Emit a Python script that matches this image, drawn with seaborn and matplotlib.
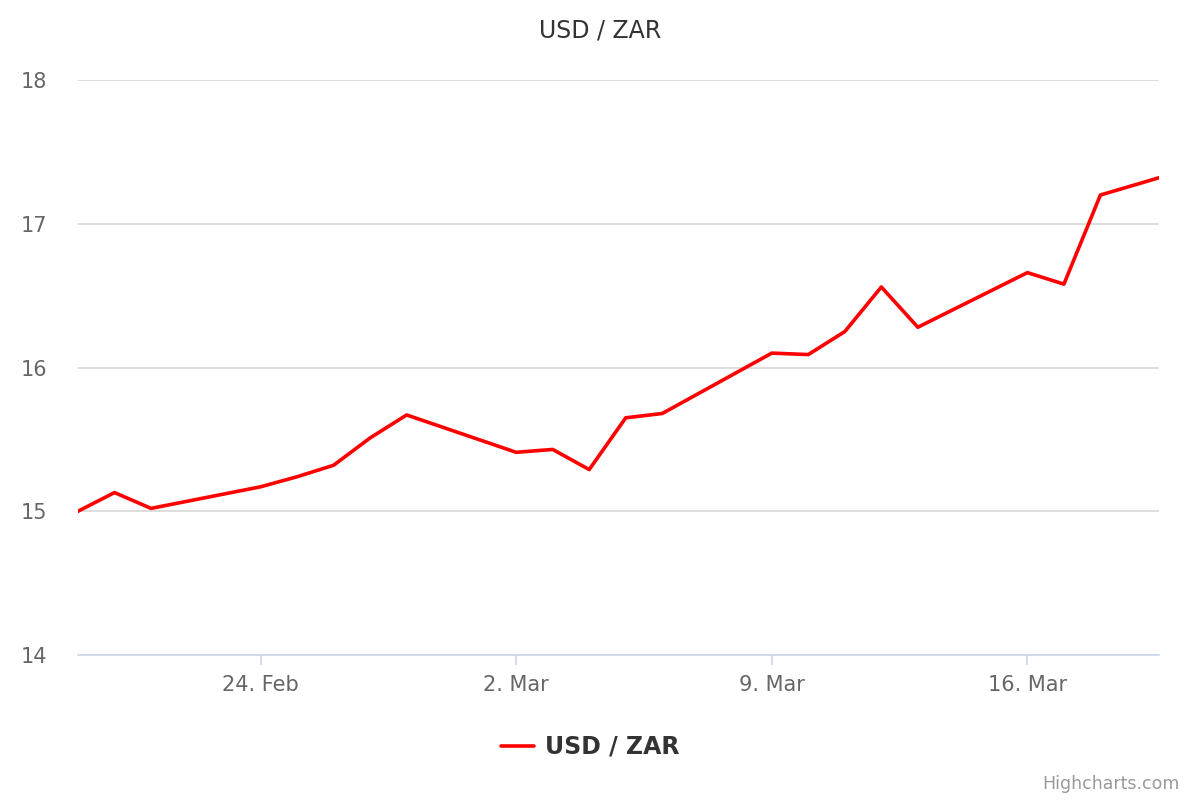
# USD / ZAR daily rate, Highcharts-style line chart.
import pandas as pd
import seaborn as sns
import matplotlib.pyplot as plt
import matplotlib.dates as mdates

dates = ['2020-02-19 00:00', '2020-02-20 00:00', '2020-02-21 00:00', '2020-02-24 00:00',
         '2020-02-25 00:00', '2020-02-26 00:00', '2020-02-27 00:00', '2020-02-28 00:00',
         '2020-03-02 00:00', '2020-03-03 00:00', '2020-03-04 00:00', '2020-03-05 00:00',
         '2020-03-06 00:00', '2020-03-09 00:00', '2020-03-10 00:00', '2020-03-11 00:00',
         '2020-03-12 00:00', '2020-03-13 00:00', '2020-03-16 00:00', '2020-03-17 00:00',
         '2020-03-18 00:00', '2020-03-19 14:30']
rates = [15.00, 15.13, 15.02, 15.17, 15.24, 15.32, 15.51, 15.67, 15.41, 15.43,
         15.29, 15.65, 15.68, 16.10, 16.09, 16.25, 16.56, 16.28, 16.66, 16.58,
         17.20, 17.32]
series_name = 'USD / ZAR'
y_ticks = [14, 15, 16, 17, 18]

df = pd.DataFrame({'date': pd.to_datetime(dates, format='%Y-%m-%d %H:%M'), 'rate': rates})

sns.set_style("white")
plt.rcParams['font.family'] = ['DejaVu Sans']

fig = plt.figure(figsize=(12, 8), dpi=100)
ax = fig.add_axes([78 / 1200, 1 - 655 / 800, (1159 - 78) / 1200, (655 - 80) / 800])

sns.lineplot(data=df, x='date', y='rate', color='#ff0000', linewidth=2.6,
             label=series_name, ax=ax, legend=False)

ax.set_xlim(df['date'].iloc[0], df['date'].iloc[-1])
ax.set_ylim(14, 18)
ax.set_yticks(y_ticks)
ax.yaxis.grid(True, color='#d8d8d8', linewidth=1.2)
ax.xaxis.grid(False)
ax.set_axisbelow(True)

ax.xaxis.set_major_locator(mdates.WeekdayLocator(byweekday=mdates.MO))
ax.xaxis.set_major_formatter(mdates.DateFormatter('%-d. %b'))

for side in ['top', 'right', 'left']:
    ax.spines[side].set_visible(False)
ax.spines['bottom'].set_color('#ccd6eb')
ax.spines['bottom'].set_linewidth(1.2)

ax.tick_params(axis='y', left=False, length=0, pad=22, labelsize=15, labelcolor='#666666')
ax.tick_params(axis='x', bottom=True, direction='out', length=7.5, width=1.2,
               color='#ccd6eb', pad=7, labelsize=15, labelcolor='#666666')
ax.set_xlabel('')
ax.set_ylabel('')

fig.text(0.5, 1 - 31 / 800, series_name, ha='center', va='center',
         fontsize=17, color='#333333')

handles, labels = ax.get_legend_handles_labels()
leg = fig.legend(handles, labels, loc='center', bbox_to_anchor=(0.492, 1 - 747 / 800),
                 frameon=False, handlelength=1.4, handletextpad=0.45,
                 prop={'size': 17, 'weight': 'bold'})
for t in leg.get_texts():
    t.set_color('#333333')

fig.text(1180 / 1200, 1 - 784 / 800, 'Highcharts.com', ha='right', va='center',
         fontsize=12.5, color='#999999')

fig.savefig('out.png', dpi=100)
